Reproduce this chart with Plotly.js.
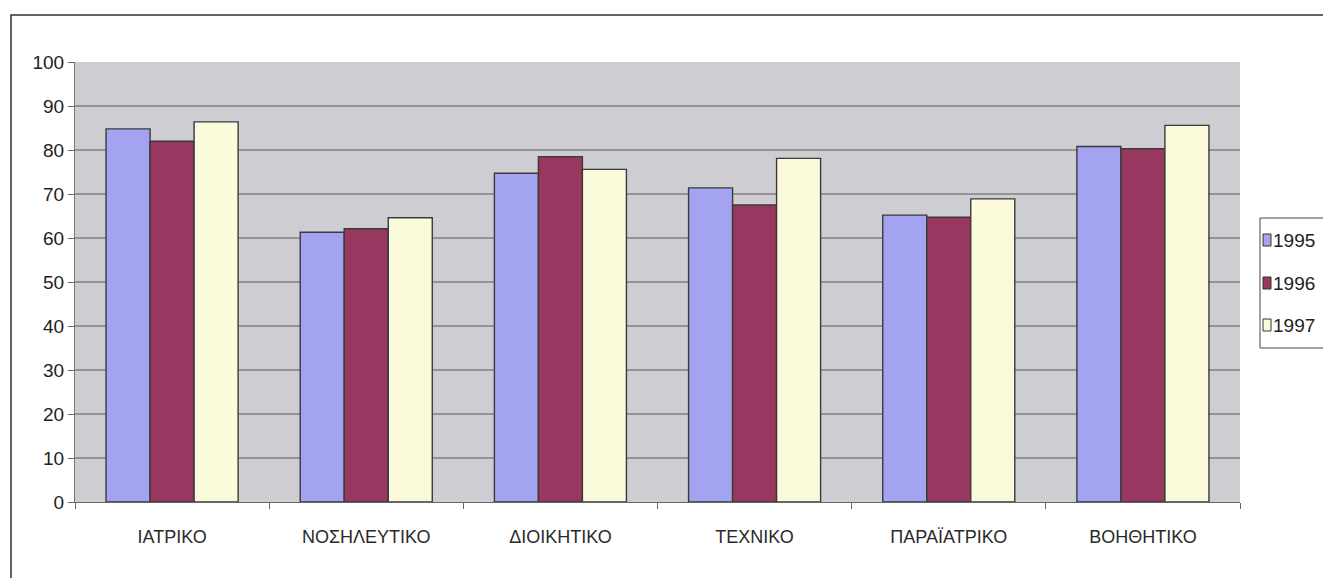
<!DOCTYPE html>
<html>
<head>
<meta charset="utf-8">
<script src="https://cdn.plot.ly/plotly-3.0.1.min.js"></script>
<style>
  html, body { margin: 0; padding: 0; background: #ffffff; }
  #chart { width: 1323px; height: 578px; }
</style>
</head>
<body>
<div id="chart"></div>
<script>
// Staff categories (Greek labels) and yearly percentages
const categories = ["ΙΑΤΡΙΚΟ", "ΝΟΣΗΛΕΥΤΙΚΟ", "ΔΙΟΙΚΗΤΙΚΟ", "ΤΕΧΝΙΚΟ", "ΠΑΡΑΪΑΤΡΙΚΟ", "ΒΟΗΘΗΤΙΚΟ"];
const years = ["1995", "1996", "1997"];
const values1995 = [84.8, 61.3, 74.7, 71.4, 65.2, 80.8];
const values1996 = [82.0, 62.1, 78.5, 67.5, 64.7, 80.3];
const values1997 = [86.4, 64.6, 75.6, 78.1, 68.9, 85.6];
const yTicks = [0, 10, 20, 30, 40, 50, 60, 70, 80, 90, 100];

const seriesValues = [values1995, values1996, values1997];
const seriesColors = ["#a3a3f2", "#98375f", "#fbfbdc"];

const fontFamily = "'Liberation Sans', Arial, sans-serif";

// plot area geometry in pixels (used to place the side legend in paper units)
const W = 1323, H = 578;
const M = { l: 75, r: 83, t: 62, b: 76 };
const plotW = W - M.l - M.r, plotH = H - M.t - M.b;
const px = x => (x - M.l) / plotW;
const py = y => (H - M.b - y) / plotH;

const traces = years.map((yr, i) => ({
  type: "bar",
  name: yr,
  x: categories,
  y: seriesValues[i],
  marker: {
    color: seriesColors[i],
    line: { color: "#3a3a3a", width: 1.4 }
  },
  hoverinfo: "x+y+name"
}));

// horizontal gridlines behind the bars (no line along the top edge)
const gridShapes = yTicks.filter(v => v > 0 && v < 100).map(v => ({
  type: "line", xref: "paper", yref: "y",
  x0: 0, x1: 1, y0: v, y1: v,
  line: { color: "#5a5a5a", width: 1 },
  layer: "below"
}));

// side legend: framed box with small swatches and year labels
const legendTop = 218, legendBottom = 348, legendLeft = 1260;
const legendRows = [240, 283, 325];
const legendShapes = [
  {
    type: "rect", xref: "paper", yref: "paper",
    x0: px(legendLeft), x1: px(1360), y0: py(legendBottom), y1: py(legendTop),
    line: { color: "#444444", width: 1 },
    fillcolor: "#ffffff", layer: "above"
  }
].concat(years.map((yr, i) => ({
  type: "rect", xref: "paper", yref: "paper",
  x0: px(legendLeft + 3), x1: px(legendLeft + 11),
  y0: py(legendRows[i] + 6), y1: py(legendRows[i] - 6),
  line: { color: "#333333", width: 1 },
  fillcolor: seriesColors[i], layer: "above"
})));
const legendLabels = years.map((yr, i) => ({
  xref: "paper", yref: "paper",
  x: px(legendLeft + 11), y: py(legendRows[i]),
  xanchor: "left", yanchor: "middle",
  text: yr, showarrow: false,
  font: { family: fontFamily, size: 19, color: "#222222" }
}));

const layout = {
  width: W,
  height: H,
  margin: Object.assign({ autoexpand: false }, M),
  paper_bgcolor: "#ffffff",
  plot_bgcolor: "#cdcdd2",
  barmode: "group",
  bargap: 0.32,
  bargroupgap: 0,
  font: { family: fontFamily, size: 16, color: "#222222" },
  showlegend: false,
  xaxis: {
    type: "category",
    tickson: "boundaries",
    ticks: "outside",
    ticklen: 6,
    tickcolor: "#666666",
    showline: true,
    linecolor: "#666666",
    linewidth: 1,
    showgrid: false,
    ticklabelstandoff: 18,
    tickfont: { family: fontFamily, size: 18, color: "#2a2a2a" },
    fixedrange: true
  },
  yaxis: {
    range: [0, 100],
    tickvals: yTicks,
    ticktext: yTicks.map(String),
    ticks: "outside",
    ticklen: 6,
    tickcolor: "#666666",
    showline: true,
    linecolor: "#777777",
    linewidth: 1,
    showgrid: false,
    zeroline: false,
    tickfont: { family: fontFamily, size: 19, color: "#222222" },
    fixedrange: true
  },
  annotations: legendLabels,
  shapes: [
    {
      // outer chart frame
      type: "rect", xref: "paper", yref: "paper",
      x0: px(11), x1: px(1400), y0: py(640), y1: py(15),
      line: { color: "#333333", width: 1.5 },
      fillcolor: "rgba(0,0,0,0)",
      layer: "below"
    }
  ].concat(gridShapes, legendShapes)
};

Plotly.newPlot("chart", traces, layout, { displayModeBar: false, staticPlot: true });
</script>
</body>
</html>
